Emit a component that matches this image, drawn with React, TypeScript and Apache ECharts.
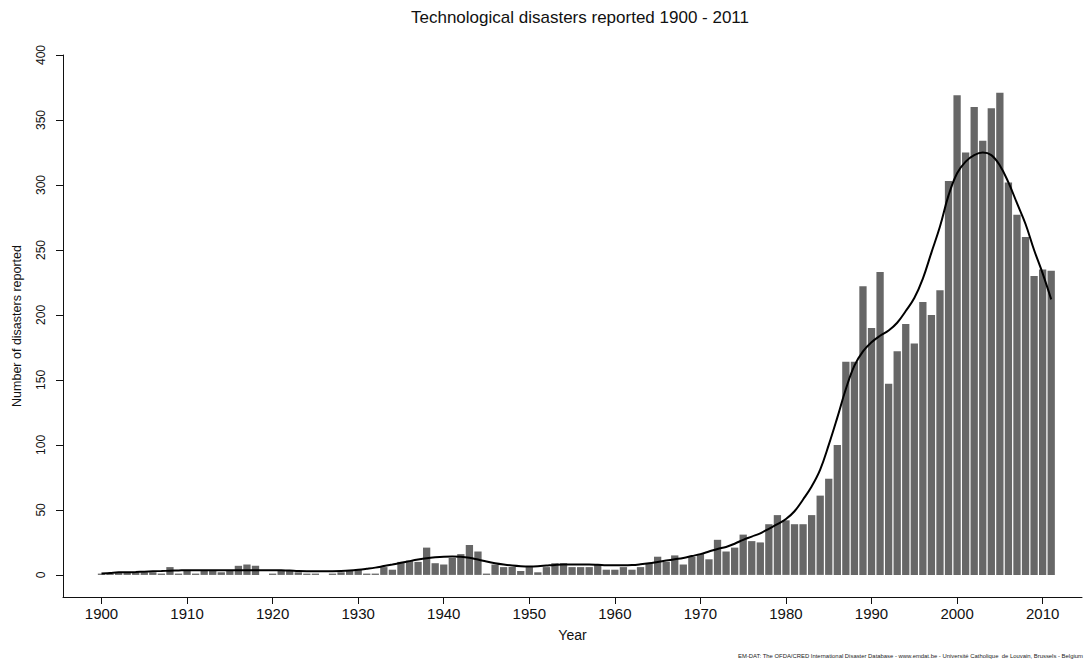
import React, { useEffect, useRef } from "react";
import * as echarts from "echarts";

const years: number[] = [];
for (let y = 1900; y <= 2011; y++) years.push(y);

const disasters: number[] = [
  1, 1, 2, 2, 2, 2, 2, 1, 6, 1,
  3, 1, 3, 3, 2, 3, 7, 8, 7, 0,
  1, 3, 3, 2, 1, 1, 0, 1, 2, 3,
  4, 1, 1, 6, 4, 10, 11, 10, 21, 9,
  8, 13, 16, 23, 18, 1, 8, 6, 6, 3,
  6, 2, 6, 9, 9, 6, 6, 6, 8, 4,
  4, 6, 4, 6, 9, 14, 10, 15, 8, 14,
  16, 12, 27, 18, 21, 31, 26, 25, 39, 46,
  42, 39, 39, 46, 61, 74, 100, 164, 164, 222,
  190, 233, 147, 172, 193, 178, 210, 200, 219, 303,
  369, 325, 360, 334, 359, 371, 302, 277, 260, 230,
  235, 234,
];

const trend: number[] = [
  1, 1.5, 2, 2, 2.2, 2.5, 2.8, 3, 3.2, 3.4,
  3.6, 3.6, 3.6, 3.6, 3.6, 3.6, 3.6, 3.6, 3.6, 3.6,
  3.6, 3.5, 3.3, 3, 2.9, 2.9, 2.9, 2.9, 3, 3.3,
  3.9, 4.7, 5.6, 6.8, 8, 9.3, 10.6, 11.8, 12.8, 13.5,
  14, 14.2, 14, 13.2, 11.8, 10.3, 9, 8, 7.2, 6.7,
  6.5, 6.7, 7.2, 7.7, 8, 8, 8, 8, 7.8, 7.5,
  7.4, 7.4, 7.6, 8.2, 9, 10, 11, 12, 13, 14.5,
  16, 18, 20, 21.5, 24, 27, 29.5, 32, 35.5, 39,
  43, 49, 58, 68, 81, 100, 121, 143, 161, 172,
  179, 184, 188, 194, 203, 213, 228, 248, 268, 292,
  309, 318, 323, 325, 323, 315, 302, 286, 270, 250,
  232, 212,
];

const xTicks: number[] = [1900, 1910, 1920, 1930, 1940, 1950, 1960, 1970, 1980, 1990, 2000, 2010];
const yTicks: number[] = [0, 50, 100, 150, 200, 250, 300, 350, 400];

const titleText = "Technological disasters reported 1900 - 2011";
const xName = "Year";
const yName = "Number of disasters reported";
const footer =
  "EM-DAT: The OFDA/CRED International Disaster Database - www.emdat.be - Université Catholique  de Louvain, Brussels - Belgium";

export default function App() {
  const ref = useRef<HTMLDivElement>(null);

  useEffect(() => {
    if (!ref.current) return;
    const chart = echarts.init(ref.current, undefined, { renderer: "svg" });
    const font = "Arial, 'Liberation Sans', sans-serif";
    chart.setOption({
      animation: false,
      backgroundColor: "#ffffff",
      title: {
        text: titleText,
        left: 575,
        top: 4,
        textAlign: "center",
        textStyle: { fontSize: 17, fontWeight: "normal", color: "#111", fontFamily: font },
      },
      grid: { left: 63, right: 3, top: 55, bottom: 69, containLabel: false },
      xAxis: {
        type: "value",
        min: 1895.5,
        max: 2014.6,
        name: xName,
        nameLocation: "middle",
        nameGap: 31,
        nameTextStyle: { fontSize: 14, color: "#111", fontFamily: font },
        axisLine: { show: true, onZero: false, lineStyle: { color: "#111", width: 1 } },
        axisTick: { show: true, length: 7, lineStyle: { color: "#111" }, customValues: xTicks },
        axisLabel: {
          customValues: xTicks,
          fontSize: 15,
          color: "#111",
          fontFamily: font,
          margin: 9,
          formatter: (v: number) => String(v),
        },
        splitLine: { show: false },
      },
      yAxis: {
        type: "value",
        min: -17,
        max: 400,
        name: yName,
        nameLocation: "middle",
        nameGap: 40,
        nameRotate: 90,
        nameTextStyle: { fontSize: 12.5, color: "#111", fontFamily: font },
        axisLine: { show: true, onZero: false, lineStyle: { color: "#111", width: 1 } },
        axisTick: { show: true, length: 7, lineStyle: { color: "#111" }, customValues: yTicks },
        axisLabel: {
          customValues: yTicks,
          rotate: 90,
          fontSize: 12,
          color: "#111",
          fontFamily: font,
          margin: 16,
        },
        splitLine: { show: false },
      },
      graphic: [
        {
          type: "text",
          right: 2,
          top: 653,
          silent: true,
          style: { text: footer, fontSize: 5.9, fill: "#222", fontFamily: font },
        },
      ],
      series: [
        {
          type: "bar",
          data: years.map((y, i) => [y, disasters[i]]),
          barWidth: 7.3,
          itemStyle: { color: "#676767" },
          z: 2,
        },
        {
          type: "line",
          data: years.map((y, i) => [y, trend[i]]),
          smooth: 0.4,
          symbol: "none",
          lineStyle: { color: "#000", width: 2 },
          z: 3,
        },
      ],
    });
    return () => chart.dispose();
  }, []);

  return (
    <div
      ref={ref}
      style={{ position: "fixed", left: 0, top: 0, width: 1085, height: 666, overflow: "hidden", background: "#fff" }}
    />
  );
}
